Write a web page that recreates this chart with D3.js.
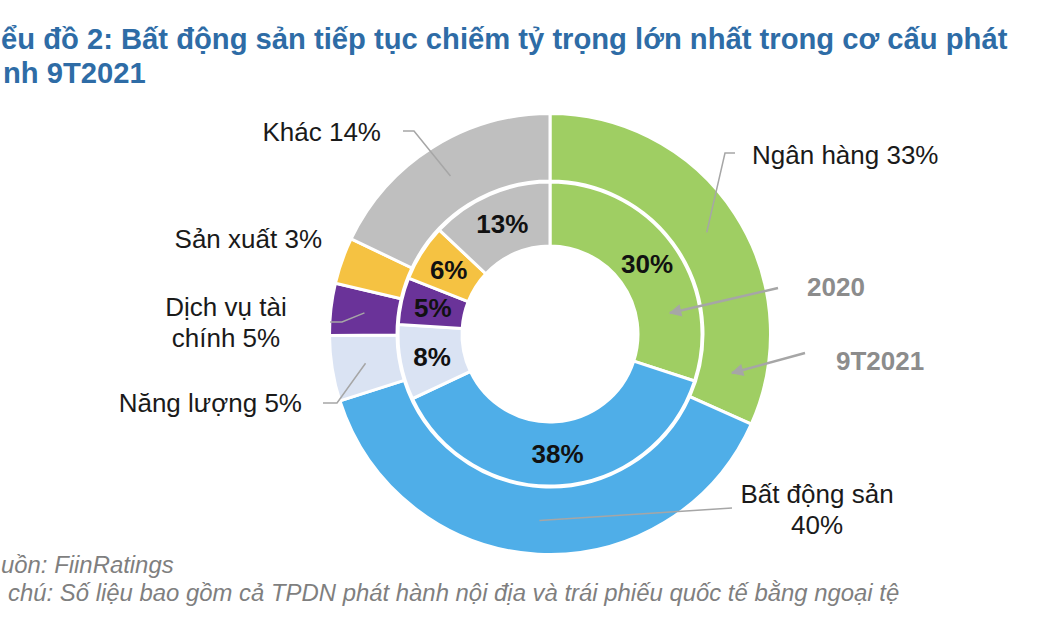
<!DOCTYPE html>
<html>
<head>
<meta charset="utf-8">
<script src="https://cdnjs.cloudflare.com/ajax/libs/d3/7.8.5/d3.min.js"></script>
<style>
  body { margin: 0; background: #fff; }
  svg { display: block; font-family: "Liberation Sans", Arial, sans-serif; }
</style>
</head>
<body>
<div id="chart"></div>
<script>
// categories, clockwise from 12 o'clock
var categories = ["Ngân hàng", "Bất động sản", "Năng lượng", "Dịch vụ tài chính", "Sản xuất", "Khác"];
var colors = ["#9fce63", "#4faee8", "#dae3f3", "#6a3399", "#f5c242", "#bfbfbf"];

// inner ring = 2020 (%)
var values2020 = [30, 38, 8, 5, 6, 13];
// outer ring = 9T2021, wedge sizes as drawn (%)
var values2021 = [31.7, 38.4, 4.8, 3.8, 3.4, 17.9];
// printed labels of the outer ring
var labels2021 = ["33%", "40%", "5%", "5%", "3%", "14%"];

// the source picture is cropped on its left side; only the visible part is kept
var titleLines = ["ểu đồ 2: Bất động sản tiếp tục chiếm tỷ trọng lớn nhất trong cơ cấu phát", "nh 9T2021"];
var footLines = ["uồn: FiinRatings", "chú: Số liệu bao gồm cả TPDN phát hành nội địa và trái phiếu quốc tế bằng ngoại tệ"];

var width = 1050, height = 630;
var cx = 550, cy = 334;

var svg = d3.select("#chart")
  .append("svg")
    .attr("width", width)
    .attr("height", height);

svg.append("defs").append("marker")
    .attr("id", "arrow")
    .attr("viewBox", "0 0 10 10")
    .attr("refX", 9).attr("refY", 5)
    .attr("markerWidth", 6).attr("markerHeight", 5)
    .attr("markerUnits", "strokeWidth")
    .attr("orient", "auto")
  .append("path")
    .attr("d", "M0,0L10,5L0,10Z")
    .attr("fill", "#a6a6a6");

var pie = d3.pie().sort(null).value(function(d) { return d; });
var arcOuter = d3.arc().innerRadius(153).outerRadius(220.5);
var arcInner = d3.arc().innerRadius(88).outerRadius(152);

var g = svg.append("g").attr("transform", "translate(" + cx + "," + cy + ")");

var outerArcs = pie(values2021);
var innerArcs = pie(values2020);

g.selectAll(".outer")
  .data(outerArcs)
  .enter().append("path")
    .attr("class", "outer")
    .attr("d", arcOuter)
    .attr("fill", function(d, i) { return colors[i]; })
    .attr("stroke", "#fff")
    .attr("stroke-width", 3);

g.selectAll(".inner")
  .data(innerArcs)
  .enter().append("path")
    .attr("class", "inner")
    .attr("d", arcInner)
    .attr("fill", function(d, i) { return colors[i]; })
    .attr("stroke", "#fff")
    .attr("stroke-width", 3);

// inner ring percentages
g.selectAll(".inlab")
  .data(innerArcs)
  .enter().append("text")
    .attr("class", "inlab")
    .attr("x", function(d) { return arcInner.centroid(d)[0]; })
    .attr("y", function(d) { return arcInner.centroid(d)[1]; })
    .attr("dy", "0.36em")
    .attr("text-anchor", "middle")
    .attr("font-size", 26)
    .attr("font-weight", "bold")
    .attr("fill", "#111")
    .text(function(d) { return d.value + "%"; });

// outer labels: layout per category (bend points and text anchors)
var layout = [
  {bend: [[725, 153], [735, 153]], x: 752, y: 164, anchor: "start", lines: [categories[0] + " " + labels2021[0]]},
  {bend: [[732, 508]], x: 817, y: 503, anchor: "middle", lines: [categories[1], labels2021[1]]},
  {bend: [[337, 403], [323, 403]], x: 302, y: 412, anchor: "end", lines: [categories[2] + " " + labels2021[2]]},
  {bend: [[342, 322], [330, 322]], x: 226, y: 316, anchor: "middle", lines: ["Dịch vụ tài", "chính " + labels2021[3]]},
  {bend: null, x: 322, y: 248, anchor: "end", lines: [categories[4] + " " + labels2021[4]]},
  {bend: [[414, 131], [403, 131]], x: 381, y: 141, anchor: "end", lines: [categories[5] + " " + labels2021[5]]}
];

var line = d3.line();
outerArcs.forEach(function(d, i) {
  var L = layout[i];
  if (L.bend) {
    var c = arcOuter.centroid(d);
    var pts = [[c[0] + cx, c[1] + cy]].concat(L.bend);
    svg.append("path")
      .attr("d", line(pts))
      .attr("fill", "none")
      .attr("stroke", "#a6a6a6")
      .attr("stroke-width", 1.5);
  }
  var t = svg.append("text")
    .attr("x", L.x)
    .attr("y", L.y)
    .attr("text-anchor", L.anchor)
    .attr("font-size", 26)
    .attr("fill", "#1a1a1a");
  L.lines.forEach(function(s, k) {
    t.append("tspan").attr("x", L.x).attr("dy", k === 0 ? 0 : 31).text(s);
  });
});

// ring name arrows
var rings = [
  {name: "2020", from: [778, 288], to: [670, 313], x: 807, y: 296},
  {name: "9T2021", from: [805, 353], to: [732, 373], x: 836, y: 370}
];
rings.forEach(function(r) {
  svg.append("line")
    .attr("x1", r.from[0]).attr("y1", r.from[1])
    .attr("x2", r.to[0]).attr("y2", r.to[1])
    .attr("stroke", "#a6a6a6")
    .attr("stroke-width", 2.5)
    .attr("marker-end", "url(#arrow)");
  svg.append("text")
    .attr("x", r.x).attr("y", r.y)
    .attr("font-size", 26)
    .attr("font-weight", "bold")
    .attr("fill", "#8c8c8c")
    .text(r.name);
});

// title
svg.append("text")
  .attr("x", 1).attr("y", 49)
  .attr("font-size", 29.2)
  .attr("font-weight", "bold")
  .attr("fill", "#2e6ca6")
  .text(titleLines[0]);
svg.append("text")
  .attr("x", 3).attr("y", 83)
  .attr("font-size", 29.2)
  .attr("font-weight", "bold")
  .attr("fill", "#2e6ca6")
  .text(titleLines[1]);

// source and note
svg.append("text")
  .attr("x", 1).attr("y", 573)
  .attr("font-size", 23.9)
  .attr("font-style", "italic")
  .attr("fill", "#7f7f7f")
  .text(footLines[0]);
svg.append("text")
  .attr("x", 8).attr("y", 601)
  .attr("font-size", 23.9)
  .attr("font-style", "italic")
  .attr("fill", "#7f7f7f")
  .text(footLines[1]);
</script>
</body>
</html>
